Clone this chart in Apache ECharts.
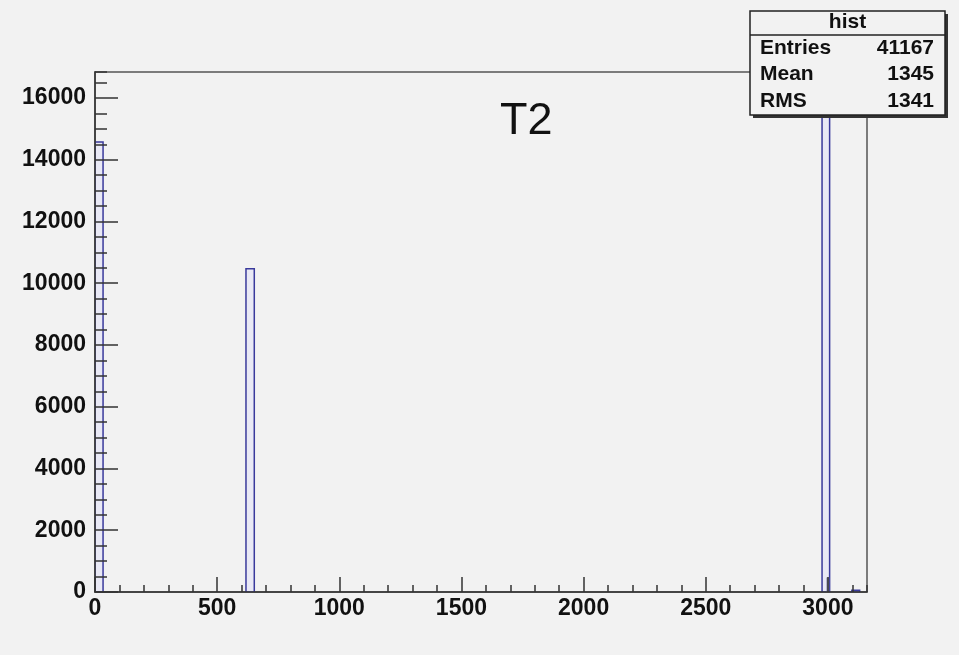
<!DOCTYPE html>
<html>
<head>
<meta charset="utf-8">
<title>T2</title>
<script src="https://cdn.jsdelivr.net/npm/echarts@6/dist/echarts.min.js"></script>
<style>
    html, body { margin: 0; padding: 0; background: #f2f2f2; }
    #chart { width: 959px; height: 655px; }
</style>
</head>
<body>
<div id="chart"></div>
<script>
'use strict';
// 直方图的各个非零 bin（下边界、上边界、计数）
const binLow = [0, 618, 2976, 3098];
const binHigh = [33, 652, 3007, 3130];
const binCount = [14570, 10470, 16020, 60];

// 3000 附近那根灰色的窄条
const grayLow = [2994];
const grayHigh = [3005];
const grayCount = [470];

// 坐标轴范围
const xRange = [0, 3160];
const yRange = [0, 16840];

// 统计框
const statTitle = 'hist';
const statLabels = ['Entries', 'Mean', 'RMS'];
const statValues = ['41167', '1345', '1341'];

const histTitle = 'T2';

let initChart = (function() {
    let myChart = echarts.init(document.getElementById('chart'));

    let histData = binLow.map(function(lo, i) {
        return [lo, binHigh[i], binCount[i]];
    });
    let grayData = grayLow.map(function(lo, i) {
        return [lo, grayHigh[i], grayCount[i]];
    });

    function binRenderer(style) {
        return function(params, api) {
            let p0 = api.coord([api.value(0), 0]);
            let p1 = api.coord([api.value(1), api.value(2)]);
            return {
                type: 'rect',
                shape: { x: p0[0], y: p1[1], width: p1[0] - p0[0], height: p0[1] - p1[1] },
                style: style
            };
        };
    }

    // 不要千分位逗号
    function plainNumber(v) {
        return String(v);
    }

    let labelFont = {
        fontFamily: 'Liberation Sans, Arial, sans-serif',
        fontWeight: 'bold',
        fontSize: 23,
        color: '#111'
    };
    let tickStyle = { color: '#333', width: 1.5 };

    let statFont = '700 21px "Liberation Sans", Arial, sans-serif';
    let boxX = 750, boxY = 11, boxW = 195, boxH = 104;
    let rowY = [55, 81, 108];

    let graphics = [
        { type: 'rect', z: 100, shape: { x: boxX + 3, y: boxY + 3, width: boxW, height: boxH }, style: { fill: '#333' } },
        { type: 'rect', z: 101, shape: { x: boxX, y: boxY, width: boxW, height: boxH }, style: { fill: '#f2f2f2', stroke: '#222', lineWidth: 1.5 } },
        { type: 'line', z: 102, shape: { x1: boxX, y1: 35, x2: boxX + boxW, y2: 35 }, style: { stroke: '#222', lineWidth: 1.5 } },
        { type: 'text', z: 102, x: boxX + boxW / 2, y: 33, style: { text: statTitle, font: statFont, fill: '#111', align: 'center', verticalAlign: 'bottom' } },
        { type: 'text', z: 102, x: 500, y: 144, style: { text: histTitle, font: '45px "Liberation Sans", Arial, sans-serif', fill: '#111', verticalAlign: 'bottom' } }
    ];
    statLabels.forEach(function(name, i) {
        graphics.push({ type: 'text', z: 102, x: 760, y: rowY[i] + 4, style: { text: name, font: statFont, fill: '#111', verticalAlign: 'bottom' } });
        graphics.push({ type: 'text', z: 102, x: 934, y: rowY[i] + 4, style: { text: statValues[i], font: statFont, fill: '#111', align: 'right', verticalAlign: 'bottom' } });
    });

    let option = {
        backgroundColor: '#f2f2f2',
        animation: false,
        grid: {
            left: 95,
            right: 92,
            top: 72,
            bottom: 63,
            show: true,
            backgroundColor: '#f2f2f2',
            borderColor: '#555',
            borderWidth: 1.5
        },
        xAxis: [{
            type: 'value',
            position: 'bottom',
            z: 5,
            min: xRange[0],
            max: xRange[1],
            interval: 500,
            axisLine: { show: true, onZero: false, lineStyle: tickStyle },
            axisTick: { show: true, inside: true, length: 15, lineStyle: tickStyle },
            axisLabel: Object.assign({ margin: 5, showMaxLabel: false, formatter: plainNumber }, labelFont),
            splitLine: { show: false }
        }, {
            // 次刻度，每 100 一个
            type: 'value',
            position: 'bottom',
            z: 5,
            min: xRange[0],
            max: xRange[1],
            interval: 100,
            axisLine: { show: false },
            axisTick: { show: true, inside: true, length: 7, lineStyle: tickStyle },
            axisLabel: { show: false },
            splitLine: { show: false }
        }],
        yAxis: [{
            type: 'value',
            position: 'left',
            z: 5,
            min: yRange[0],
            max: yRange[1],
            interval: 2000,
            axisLine: { show: true, onZero: false, lineStyle: tickStyle },
            axisTick: { show: true, inside: true, length: 23, lineStyle: tickStyle },
            axisLabel: Object.assign({ margin: 9, showMaxLabel: false, formatter: plainNumber }, labelFont),
            splitLine: { show: false }
        }, {
            // 次刻度，每 500 一个
            type: 'value',
            position: 'left',
            z: 5,
            min: yRange[0],
            max: yRange[1],
            interval: 500,
            axisLine: { show: false },
            axisTick: { show: true, inside: true, length: 12, lineStyle: tickStyle },
            axisLabel: { show: false },
            splitLine: { show: false }
        }],
        series: [{
            type: 'custom',
            name: 'hist',
            xAxisIndex: 0,
            yAxisIndex: 0,
            z: 2,
            clip: true,
            encode: { x: [0, 1], y: 2 },
            data: histData,
            renderItem: binRenderer({ fill: '#e9e9f5', stroke: '#3a3a9c', lineWidth: 1.5 })
        }, {
            type: 'custom',
            name: 'gray',
            xAxisIndex: 0,
            yAxisIndex: 0,
            z: 2,
            clip: true,
            encode: { x: [0, 1], y: 2 },
            data: grayData,
            renderItem: binRenderer({ fill: '#8e8eb0', stroke: null })
        }],
        graphic: graphics
    };

    myChart.setOption(option);
})();
</script>
</body>
</html>
